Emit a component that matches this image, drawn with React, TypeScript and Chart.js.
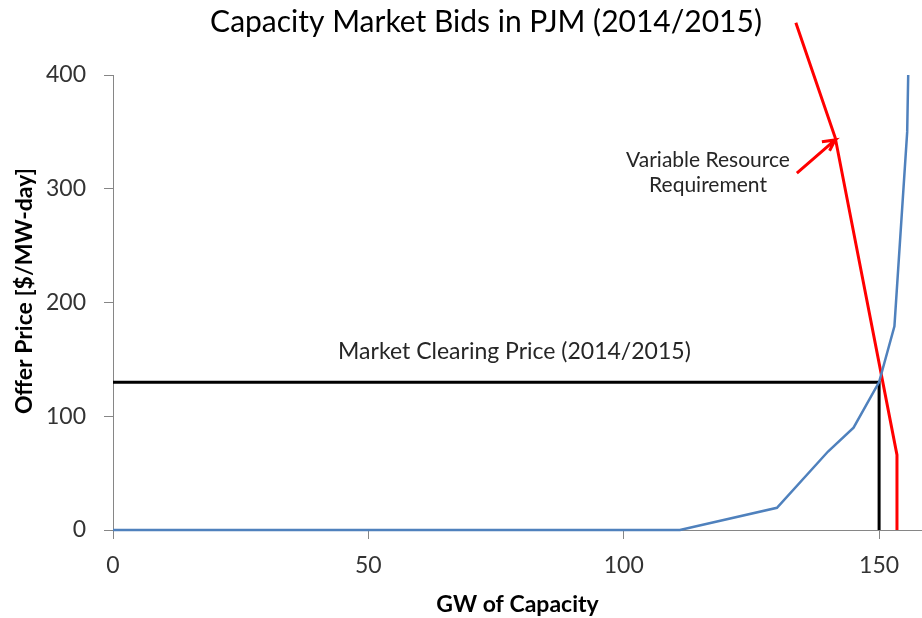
import React, { useEffect, useRef } from "react";
import { Chart, registerables } from "chart.js";

Chart.register(...registerables);

// ---- data ----
const supplyGW = [0, 111, 130, 140, 145, 150, 153, 155.5, 155.7];
const supplyPrice = [0, 0, 19.5, 69, 90, 130, 179, 350, 400];

const vrrGW = [133.7, 141.4, 153.5, 153.5];
const vrrPrice = [446, 345, 66, 0];

const clearingGW = [0, 150, 150];
const clearingPrice = [130, 130, 0];

const arrowGW = [133.9, 141.4, 138.8, 141.4, 140.3];
const arrowPrice = [313.8, 342.9, 341.4, 342.9, 333.4];

const xTickValues = [0, 50, 100, 150];
const yTickValues = [0, 100, 200, 300, 400];

const chartTitle = "Capacity Market Bids in PJM (2014/2015)";
const xAxisTitle = "GW of Capacity";
const yAxisTitle = "Offer Price [$/MW-day]";
const clearingLabel = "Market Clearing Price (2014/2015)";
const vrrLabelLines = ["Variable Resource", "Requirement"];

const toPoints = (xs: number[], ys: number[]) => xs.map((x, i) => ({ x, y: ys[i] }));

const FONT = "Lato, 'Open Sans', sans-serif";

const annotationPlugin = {
  id: "annotations",
  afterDraw(chart: any) {
    const { ctx, scales } = chart;
    const xs = scales.x;
    const ys = scales.y;
    ctx.save();
    ctx.textAlign = "center";
    ctx.textBaseline = "middle";

    // chart title
    ctx.fillStyle = "#000000";
    ctx.font = `30px ${FONT}`;
    ctx.fillText(chartTitle, 486, 22);

    // y-axis title (rotated)
    ctx.save();
    ctx.translate(25, ys.getPixelForValue(210));
    ctx.rotate(-Math.PI / 2);
    ctx.font = `bold 23px ${FONT}`;
    ctx.fillText(yAxisTitle, 0, 0);
    ctx.restore();

    // clearing price label
    ctx.fillStyle = "#262626";
    ctx.font = `23px ${FONT}`;
    ctx.fillText(clearingLabel, xs.getPixelForValue(78.6), ys.getPixelForValue(156.5));

    // VRR label
    ctx.font = `21px ${FONT}`;
    const cx = xs.getPixelForValue(116.5);
    ctx.fillText(vrrLabelLines[0], cx, ys.getPixelForValue(325));
    ctx.fillText(vrrLabelLines[1], cx, ys.getPixelForValue(303));
    ctx.restore();
  },
};

export default function App() {
  const canvasRef = useRef<HTMLCanvasElement | null>(null);

  useEffect(() => {
    if (!canvasRef.current) return;
    Chart.defaults.font.family = FONT;
    const axisGray = "#868686";
    const chart = new Chart(canvasRef.current, {
      type: "scatter",
      data: {
        datasets: [
          {
            label: "Supply",
            data: toPoints(supplyGW, supplyPrice),
            showLine: true,
            borderColor: "#4F81BD",
            backgroundColor: "#4F81BD",
            borderWidth: 2.5,
            pointRadius: 0,
            clip: false as any,
          },
          {
            label: "Clearing",
            data: toPoints(clearingGW, clearingPrice),
            showLine: true,
            borderColor: "#000000",
            backgroundColor: "#000000",
            borderWidth: 3,
            pointRadius: 0,
          },
          {
            label: "VRR",
            data: toPoints(vrrGW, vrrPrice),
            showLine: true,
            borderColor: "#FF0000",
            backgroundColor: "#FF0000",
            borderWidth: 3,
            pointRadius: 0,
            clip: false as any,
          },
          {
            label: "Arrow",
            data: toPoints(arrowGW, arrowPrice),
            showLine: true,
            borderColor: "#FF0000",
            backgroundColor: "#FF0000",
            borderWidth: 3,
            pointRadius: 0,
            clip: false as any,
          },
        ],
      },
      options: {
        animation: false,
        responsive: true,
        maintainAspectRatio: false,
        layout: { padding: { top: 75, right: 0, left: 0, bottom: 0 } },
        plugins: {
          legend: { display: false },
          tooltip: { enabled: false },
          title: { display: false },
        },
        scales: {
          x: {
            type: "linear",
            min: 0,
            max: 158.4,
            afterFit: (s: any) => {
              s.height = 88;
            },
            afterBuildTicks: (s: any) => {
              s.ticks = xTickValues.map((v) => ({ value: v }));
            },
            ticks: {
              color: "#333333",
              font: { size: 23 },
              padding: 13,
              maxRotation: 0,
              includeBounds: false,
            },
            grid: {
              drawOnChartArea: false,
              drawTicks: true,
              tickLength: 9,
              color: axisGray,
            },
            border: { display: true, color: axisGray, width: 1 },
            title: {
              display: true,
              text: xAxisTitle,
              color: "#000000",
              font: { size: 23, weight: "bold" },
              padding: { top: 0, bottom: 0 },
            },
          },
          y: {
            type: "linear",
            min: 0,
            max: 400,
            afterFit: (s: any) => {
              s.width = 113;
            },
            afterBuildTicks: (s: any) => {
              s.ticks = yTickValues.map((v) => ({ value: v }));
            },
            ticks: {
              color: "#333333",
              font: { size: 23 },
              padding: 18,
            },
            grid: {
              drawOnChartArea: false,
              drawTicks: true,
              tickLength: 9,
              color: axisGray,
            },
            border: { display: true, color: axisGray, width: 1 },
            title: { display: false },
          },
        },
      },
      plugins: [annotationPlugin],
    });
    return () => chart.destroy();
  }, []);

  return (
    <div style={{ position: "fixed", left: 0, top: 0, width: 922, height: 618, background: "#ffffff" }}>
      <canvas ref={canvasRef} />
    </div>
  );
}
